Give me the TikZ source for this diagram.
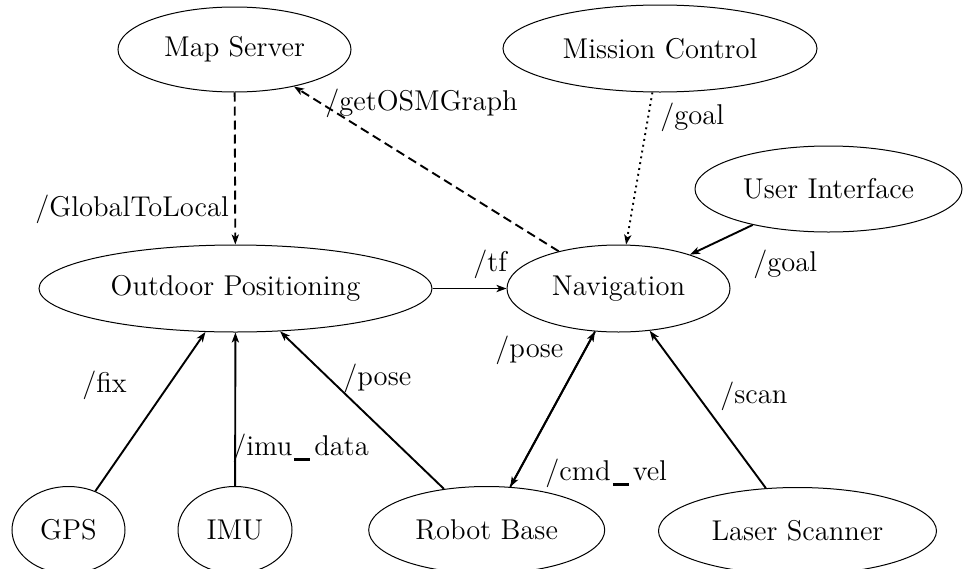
\documentclass[tikz,border=0pt]{standalone}
\usetikzlibrary{shapes.geometric,arrows.meta}
\newcommand\myusc{\kern1pt\rule[-3pt]{8pt}{1.7pt}\kern2pt}
\tikzset{
  proc/.style={draw, ellipse, inner sep=0pt, line width=0.5pt, font=\fontsize{14.3}{17}\selectfont},
  conn/.style={line width=0.95pt, -{Stealth[length=5pt,width=3.6pt,inset=1.3pt]}},
  longdash/.style={dash pattern=on 4.5pt off 2.5pt},
  lbl/.style={anchor=base west, inner sep=0pt, font=\fontsize{14.3}{17}\selectfont},
}
\begin{document}
\begin{tikzpicture}[x=0.5pt,y=-0.5pt]
\clip (0,0) rectangle (964,568);
% nodes
\node[proc, minimum width=116.5pt, minimum height=42.5pt] (map) at (234.5,49.5) {Map Server};
\node[proc, minimum width=157pt, minimum height=43.5pt] (mission) at (660,48.5) {Mission Control};
\node[proc, minimum width=133.5pt, minimum height=43pt] (ui) at (828.5,189) {User Interface};
\node[proc, minimum width=196.5pt, minimum height=43.5pt] (outdoor) at (235.5,288.5) {Outdoor Positioning};
\node[proc, minimum width=111.5pt, minimum height=43.5pt] (nav) at (618.5,288.5) {Navigation};
\node[proc, minimum width=56.5pt, minimum height=43.5pt] (gps) at (68.5,530) {GPS};
\node[proc, minimum width=57pt, minimum height=43.5pt] (imu) at (235,530) {IMU};
\node[proc, minimum width=118pt, minimum height=43.5pt] (base) at (486.7,530) {Robot Base};
\node[proc, minimum width=139pt, minimum height=43.5pt] (laser) at (797.5,531) {Laser Scanner};
% connectors
\draw[conn, longdash] (map) -- (outdoor);
\draw[conn, longdash] (nav) -- (map);
\draw[conn, dotted] (mission) -- (nav);
\draw[conn] (ui) -- (nav);
\draw[conn] (outdoor) -- (nav);
\draw[conn] (gps) -- (outdoor);
\draw[conn] (imu) -- (outdoor);
\draw[conn] (base) -- (outdoor);
\draw[conn] (base) -- (nav);
\draw[conn] (nav) -- (base);
\draw[conn] (laser) -- (nav);
% labels
\node[lbl] (lglob) at (35,216) {/GlobalToLocal};
\node[lbl] (losm) at (325,110) {/getOSMGraph};
\node[lbl] (lgoala) at (660,124) {/goal};
\node[lbl] (lgoalb) at (753,271) {/goal};
\node[lbl] (ltf) at (473,271) {/tf};
\node[lbl] (lposea) at (495,357) {/pose};
\node[lbl] (lcmd) at (545,480) {/cmd\myusc vel};
\node[lbl] (lfix) at (82,392) {/fix};
\node[lbl] (lposeb) at (343,385) {/pose};
\node[lbl] (lscan) at (720,403) {/scan};
\node[lbl] (limu) at (232,455) {/imu\myusc data};
\end{tikzpicture}
\end{document}
